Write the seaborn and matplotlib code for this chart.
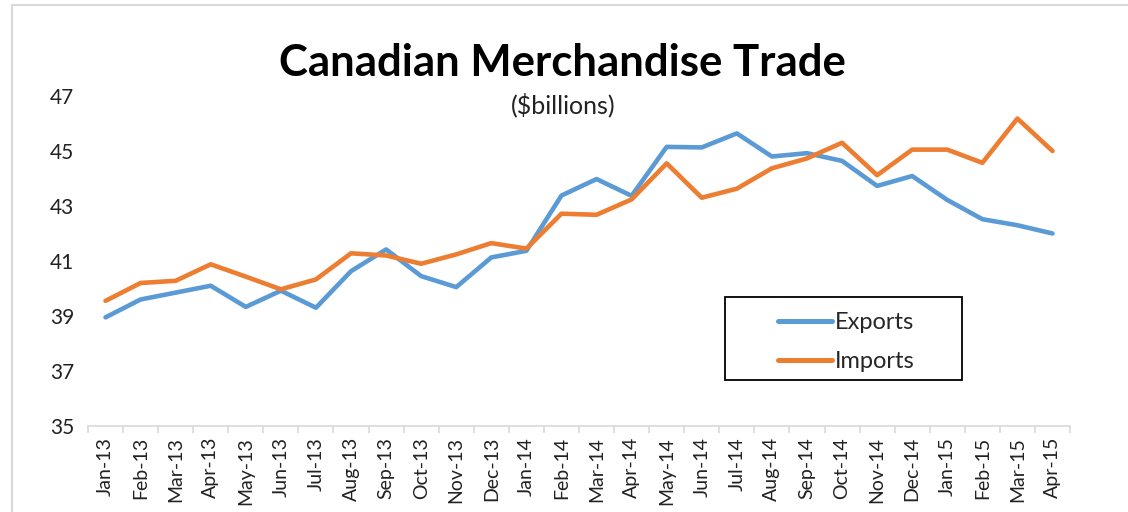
import matplotlib
matplotlib.use("Agg")
import matplotlib.pyplot as plt
import seaborn as sns
import pandas as pd
import numpy as np
from matplotlib.patches import Rectangle

months = ["Jan-13", "Feb-13", "Mar-13", "Apr-13", "May-13", "Jun-13", "Jul-13",
          "Aug-13", "Sep-13", "Oct-13", "Nov-13", "Dec-13", "Jan-14", "Feb-14",
          "Mar-14", "Apr-14", "May-14", "Jun-14", "Jul-14", "Aug-14", "Sep-14",
          "Oct-14", "Nov-14", "Dec-14", "Jan-15", "Feb-15", "Mar-15", "Apr-15"]
exports = [38.95, 39.6, 39.85, 40.1, 39.33, 39.92, 39.3, 40.63, 41.42, 40.45,
           40.05, 41.13, 41.37, 43.38, 43.98, 43.37, 45.15, 45.13, 45.64, 44.8,
           44.92, 44.64, 43.73, 44.09, 43.22, 42.52, 42.3, 42.0]
imports = [39.55, 40.2, 40.28, 40.88, 40.43, 39.97, 40.33, 41.28, 41.2, 40.9,
           41.24, 41.65, 41.45, 42.72, 42.68, 43.24, 44.55, 43.3, 43.63, 44.37,
           44.73, 45.3, 44.12, 45.05, 45.05, 44.57, 46.18, 45.0]
series_names = ["Exports", "Imports"]
yticks = [35, 37, 39, 41, 43, 45, 47]

df = pd.DataFrame({
    "idx": list(range(len(months))) * 2,
    "value": exports + imports,
    "series": [series_names[0]] * len(months) + [series_names[1]] * len(months),
})

sns.set_theme(style="white")
plt.rcParams["font.family"] = ["Lato", "DejaVu Sans"]

fig = plt.figure(figsize=(11.28, 5.12), dpi=100)
ax = fig.add_axes([0.078, 0.168, 0.8706, 0.6445])

palette = {"Exports": "#5B9BD5", "Imports": "#ED7D31"}
sns.lineplot(data=df, x="idx", y="value", hue="series", palette=palette,
             linewidth=3.3, sort=False, ax=ax, legend=True)

ax.set_xlim(-0.5, len(months) - 0.5)
ax.set_ylim(35, 47)
ax.set_yticks(yticks)
ax.set_yticklabels([str(v) for v in yticks], fontsize=15, color="#222222")
ax.set_xticks(range(len(months)))
ax.set_xticklabels(months, rotation=90, fontsize=14, color="#222222")
ax.set_xticks(np.arange(-0.5, len(months), 1.0), minor=True)
ax.tick_params(axis="x", which="major", length=0, pad=8)
ax.tick_params(axis="x", which="minor", length=5, color="#D9D9D9", width=1.2, bottom=True)
ax.tick_params(axis="y", length=0, pad=10)
ax.set_xlabel("")
ax.set_ylabel("")

for s in ["left", "right", "top"]:
    ax.spines[s].set_visible(False)
ax.spines["bottom"].set_color("#D9D9D9")
ax.spines["bottom"].set_linewidth(1.2)

ax.add_patch(Rectangle((0.649, 0.139), 0.241, 0.252, transform=ax.transAxes,
                       fill=True, facecolor="white", edgecolor="black",
                       linewidth=1.3, zorder=4))
leg = ax.legend(loc="center", bbox_to_anchor=(0.772, 0.254),
                fontsize=17, frameon=False,
                handlelength=2.3, handletextpad=0.12, borderpad=0.0,
                labelspacing=0.78)
leg.set_zorder(5)
for line in leg.get_lines():
    line.set_linewidth(3.6)
    line.set_solid_capstyle("round")

fig.text(0.499, 0.877, "Canadian Merchandise Trade", ha="center", va="center",
         fontsize=31.5, fontweight="bold", color="black")
fig.text(0.499, 0.795, "($billions)", ha="center", va="center",
         fontsize=18, color="#222222")

fig.patches.append(Rectangle((0.0107, -0.01), 1.2, 1.0, transform=fig.transFigure,
                             fill=False, edgecolor="#D9D9D9", linewidth=1.5))

fig.savefig("out.png", dpi=100)
